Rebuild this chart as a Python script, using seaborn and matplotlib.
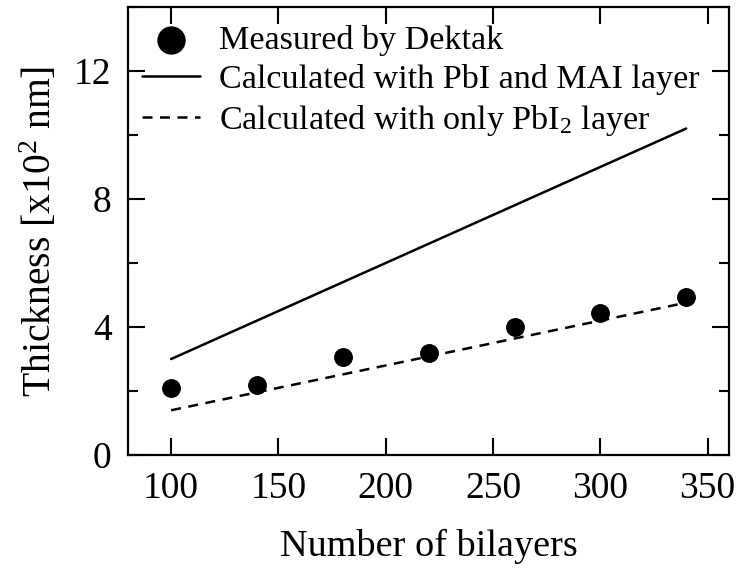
import matplotlib
matplotlib.use("Agg")
import matplotlib.pyplot as plt
import seaborn as sns
import pandas as pd
from matplotlib.ticker import MultipleLocator

bilayers = [100, 140, 180, 220, 260, 300, 340]
measured = [2.09, 2.18, 3.05, 3.2, 3.99, 4.45, 4.95]
calc_pbi_mai = [3.0, 4.2, 5.4, 6.6, 7.8, 9.0, 10.2]
calc_pbi2 = [1.4, 1.96, 2.52, 3.08, 3.64, 4.2, 4.76]

sns.set_style("ticks")
plt.rcParams['font.family'] = ['Liberation Serif', 'DejaVu Serif']
plt.rcParams['mathtext.fontset'] = 'custom'
plt.rcParams['mathtext.rm'] = 'Liberation Serif'
plt.rcParams['mathtext.it'] = 'Liberation Serif:italic'
plt.rcParams['text.color'] = 'black'
plt.rcParams['axes.labelcolor'] = 'black'
plt.rcParams['xtick.color'] = 'black'
plt.rcParams['ytick.color'] = 'black'
plt.rcParams['axes.edgecolor'] = 'black'

df = pd.DataFrame({"x": bilayers, "meas": measured, "a": calc_pbi_mai, "b": calc_pbi2})

fig = plt.figure(figsize=(7.41, 5.71), dpi=100)
ax = fig.add_axes([0.173, 0.203, 0.811, 0.785])

sns.scatterplot(data=df, x="x", y="meas", ax=ax, color="black", s=185,
                edgecolor="black", linewidth=0, label="Measured by Dektak", zorder=3)
sns.lineplot(data=df, x="x", y="a", ax=ax, color="black", linewidth=1.8,
             label="Calculated with PbI and MAI layer")
sns.lineplot(data=df, x="x", y="b", ax=ax, color="black", linewidth=1.8,
             linestyle=(0, (4, 3)), label="Calculated with only PbI$_2$ layer")

ax.set_xlim(80, 360)
ax.set_ylim(0, 14)
ax.xaxis.set_major_locator(MultipleLocator(50))
ax.yaxis.set_major_locator(MultipleLocator(4))
ax.yaxis.set_minor_locator(MultipleLocator(2))
ax.tick_params(which="both", direction="in", top=True, right=True, width=1.5,
               labelsize=27, pad=12, colors="black")
ax.tick_params(which="major", length=12)
ax.tick_params(which="minor", length=7)
for s in ax.spines.values():
    s.set_linewidth(1.6)
    s.set_color("black")

ax.set_xlabel("Number of bilayers", fontsize=27.5, labelpad=16)
ax.set_ylabel("Thickness [x10$^{2}$ nm]", fontsize=28.5, labelpad=10)

leg = ax.legend(loc="upper left", frameon=False, fontsize=24.6, markerscale=1.5,
                handlelength=1.7, handletextpad=0.55, borderaxespad=0.1,
                labelspacing=0.24, bbox_to_anchor=(-0.005, 0.998))

fig.savefig("out.png", dpi=100)
